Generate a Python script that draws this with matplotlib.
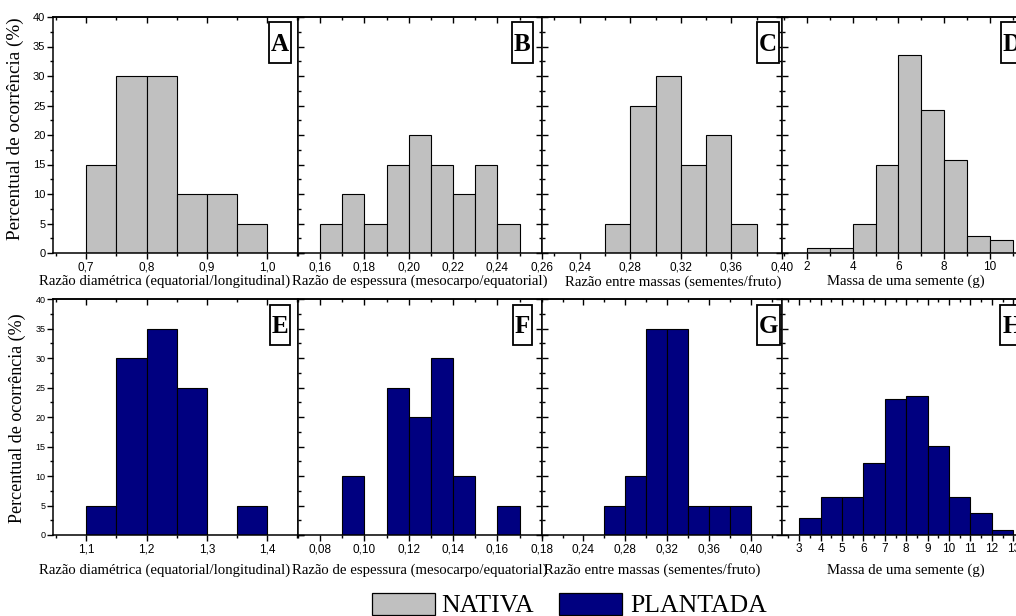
import numpy as np
import matplotlib
matplotlib.use("Agg")
import matplotlib.pyplot as plt
from matplotlib.ticker import FixedLocator, MultipleLocator, FuncFormatter
from matplotlib.patches import Rectangle

# Class edges and frequencies (%) for each fruit/seed trait
a_edges = [0.70, 0.75, 0.80, 0.85, 0.90, 0.95, 1.00]
a_pct = [15, 30, 30, 10, 10, 5]
b_edges = [0.16, 0.17, 0.18, 0.19, 0.20, 0.21, 0.22, 0.23, 0.24, 0.25]
b_pct = [5, 10, 5, 15, 20, 15, 10, 15, 5]
c_edges = [0.26, 0.28, 0.30, 0.32, 0.34, 0.36, 0.38]
c_pct = [5, 25, 30, 15, 20, 5]
d_edges = [2, 3, 4, 5, 6, 7, 8, 9, 10, 11]
d_pct = [0.8, 0.8, 5.0, 15.0, 33.6, 24.3, 15.8, 2.9, 2.2]

e_edges = [1.10, 1.15, 1.20, 1.25, 1.30, 1.35, 1.40]
e_pct = [5, 30, 35, 25, 0, 5]
f_edges = [0.09, 0.10, 0.11, 0.12, 0.13, 0.14, 0.15, 0.16, 0.17]
f_pct = [10, 0, 25, 20, 30, 10, 0, 5]
g_edges = [0.26, 0.28, 0.30, 0.32, 0.34, 0.36, 0.38, 0.40]
g_pct = [5, 10, 35, 35, 5, 5, 5]
h_edges = [3, 4, 5, 6, 7, 8, 9, 10, 11, 12, 13]
h_pct = [2.9, 6.5, 6.5, 12.2, 23.0, 23.6, 15.1, 6.5, 3.7, 0.85]

x_titles = ["Razão diamétrica (equatorial/longitudinal)",
            "Razão de espessura (mesocarpo/equatorial)",
            "Razão entre massas (sementes/fruto)",
            "Massa de uma semente (g)"]
y_title = "Percentual de ocorrência (%)"
letters_top = ["A", "B", "C", "D"]
letters_bot = ["E", "F", "G", "H"]
series_names = ["NATIVA", "PLANTADA"]
colors = ["#C0C0C0", "#000080"]

W, H = 1016, 616
fig = plt.figure(figsize=(W / 100, H / 100), dpi=100)
renderer = fig.canvas.get_renderer()

# panel geometry in figure pixels (from top-left)
col_left = [53, 298, 541.7, 782]
col_width = [245, 243.7, 240.3, 242]
row_top = [17, 299.3]
row_bottom = [253, 535]
letter_cx = [280, 522.5, 768.3, 1012]

top_specs = [
    (a_edges, a_pct, (0.645, 1.051), [0.7, 0.8, 0.9, 1.0], 0.05, 1, 0.457),
    (b_edges, b_pct, (0.15, 0.26), [0.16, 0.18, 0.20, 0.22, 0.24, 0.26], 0.01, 2, 0.50),
    (c_edges, c_pct, (0.21, 0.40), [0.24, 0.28, 0.32, 0.36, 0.40], 0.02, 2, 0.547),
    (d_edges, d_pct, (0.9, 11.5), [2, 4, 6, 8, 10], 1, 0, 0.511),
]
bot_specs = [
    (e_edges, e_pct, (1.045, 1.451), [1.1, 1.2, 1.3, 1.4], 0.05, 1, 0.457),
    (f_edges, f_pct, (0.07, 0.18), [0.08, 0.10, 0.12, 0.14, 0.16, 0.18], 0.01, 2, 0.50),
    (g_edges, g_pct, (0.20, 0.43), [0.24, 0.28, 0.32, 0.36, 0.40], 0.02, 2, 0.458),
    (h_edges, h_pct, (2.2, 13.5), list(range(3, 14)), 0.5, 0, 0.511),
]

serif = "Liberation Serif"
sans = "Liberation Sans"


def comma_fmt(decimals):
    return FuncFormatter(lambda v, p: f"{v:.{decimals}f}".replace(".", ","))


def fx(px):
    return px / W


def fy(py):
    return 1 - py / H


def panel_letter(letter, cx, top_px):
    box_top = top_px + 5.5
    box_h = 40
    cy = box_top + box_h / 2
    t = fig.text(fx(cx), fy(cy + 8.3), letter, ha="center", va="baseline",
                 fontfamily=serif, fontweight="bold", fontsize=18, zorder=6)
    bw = t.get_window_extent(renderer).width + 4
    fig.add_artist(Rectangle((fx(cx - bw / 2), fy(box_top + box_h)),
                             bw / W, box_h / H, transform=fig.transFigure,
                             facecolor="white", edgecolor="black",
                             linewidth=1.3, zorder=5))


def draw_row(r, specs, color, letters, ytick_size, ylabel_size, ylabel_x,
             ylabel_y, xlabel_y):
    for c, (edges, pct, xlim, xticks, minor, dec, xlab_x) in enumerate(specs):
        ax = fig.add_axes([fx(col_left[c]), fy(row_bottom[r]),
                           col_width[c] / W,
                           (row_bottom[r] - row_top[r]) / H])
        edges = np.asarray(edges)
        ax.bar(edges[:-1], pct, width=np.diff(edges), align="edge",
               color=color, edgecolor="black", linewidth=0.8, zorder=2)
        ax.set_xlim(*xlim)
        ax.set_ylim(0, 40)
        ax.xaxis.set_major_locator(FixedLocator(xticks))
        ax.xaxis.set_minor_locator(MultipleLocator(minor))
        ax.xaxis.set_major_formatter(comma_fmt(dec))
        ax.yaxis.set_major_locator(MultipleLocator(5))
        ax.yaxis.set_minor_locator(MultipleLocator(2.5))
        for sp in ax.spines.values():
            sp.set_linewidth(1.1)

        # bottom ticks point outward, top ticks inward
        ax.tick_params(axis="x", which="both", bottom=True, top=False,
                       direction="out", labelsize=8.5, pad=2, width=1.0)
        ax.tick_params(axis="x", which="major", length=4)
        ax.tick_params(axis="x", which="minor", length=2.5)
        sec = ax.secondary_xaxis("top")
        sec.xaxis.set_major_locator(FixedLocator(xticks))
        sec.xaxis.set_minor_locator(MultipleLocator(minor))
        sec.tick_params(axis="x", which="both", direction="in",
                        labeltop=False, width=1.0)
        sec.tick_params(axis="x", which="major", length=4)
        sec.tick_params(axis="x", which="minor", length=2.5)
        sec.spines["top"].set_linewidth(1.1)

        ax.tick_params(axis="y", which="both", left=True, right=True,
                       direction="in", width=1.0)
        ax.tick_params(axis="y", which="major", length=4)
        ax.tick_params(axis="y", which="minor", length=2.5)
        for lab in ax.get_xticklabels():
            lab.set_fontfamily(sans)
        if c == 0:
            ax.tick_params(axis="y", which="both", direction="out",
                           labelsize=ytick_size, pad=1.5)
            for lab in ax.get_yticklabels():
                lab.set_fontfamily(sans)
            ax.set_ylabel(y_title, fontfamily=serif, fontsize=ylabel_size)
            ax.yaxis.set_label_coords(ylabel_x, ylabel_y)
        else:
            ax.tick_params(axis="y", which="both", labelleft=False)
        ax.set_xlabel(x_titles[c], fontfamily=serif, fontsize=10.6)
        ax.xaxis.set_label_coords(xlab_x, xlabel_y)
        panel_letter(letters[c], letter_cx[c], row_top[r])


draw_row(0, top_specs, colors[0], letters_top, 8, 13.8, -0.118, 0.527, -0.093)
draw_row(1, bot_specs, colors[1], letters_bot, 6.5, 13, -0.11, 0.495, -0.12)

# legend drawn below the panels
leg = [(372, 441.7), (559, 630)]
for (px, tx), name, col in zip(leg, series_names, colors):
    fig.add_artist(Rectangle((fx(px), fy(615)), 63 / W, 22 / H,
                             transform=fig.transFigure, facecolor=col,
                             edgecolor="black", linewidth=0.9))
    fig.text(fx(tx), fy(612.3), name, fontfamily=serif, fontsize=18.5,
             ha="left", va="baseline")

fig.savefig("out.png", dpi=100)
